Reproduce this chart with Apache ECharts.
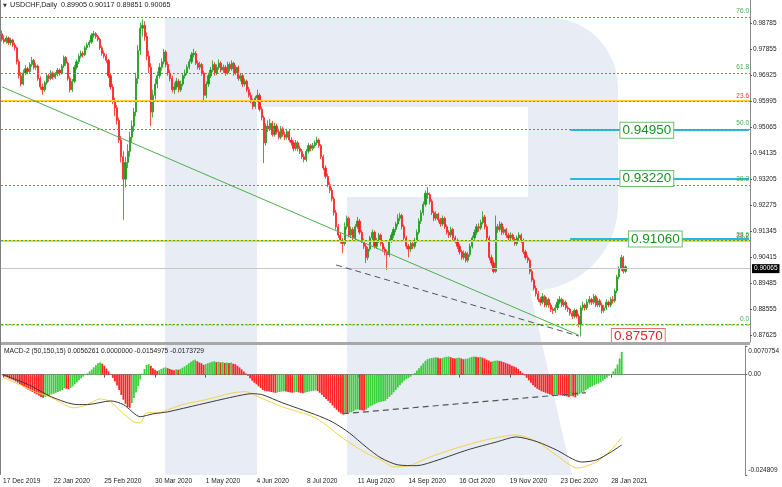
<!DOCTYPE html>
<html><head><meta charset="utf-8">
<script src="https://cdn.jsdelivr.net/npm/echarts@6/dist/echarts.min.js"></script>
<style>html,body{margin:0;padding:0;background:#fff}#c{width:782px;height:487px}</style>
</head><body><div id="c"></div>
<script>
// ---------- DATA (prices in 1e-4 units) ----------
const tickLabels = ['17 Dec 2019','22 Jan 2020','25 Feb 2020','30 Mar 2020','1 May 2020','4 Jun 2020','8 Jul 2020','11 Aug 2020','14 Sep 2020','16 Oct 2020','19 Nov 2020','23 Dec 2020','28 Jan 2021'];
const priceTicks = [0.98785,0.97855,0.96925,0.95995,0.95065,0.94135,0.93205,0.92275,0.91345,0.90415,0.89485,0.88555,0.87625];
const macdTicks = [0.0070754, 0, -0.024809];
const open = [9840,9820,9812,9825,9808,9818,9800,9790,9740,9690,9660,9700,9715,9705,9730,9745,9720,9725,9680,9650,9640,9665,9690,9680,9700,9685,9695,9710,9700,9725,9755,9735,9680,9640,9670,9720,9740,9760,9770,9765,9790,9800,9810,9835,9840,9830,9820,9790,9770,9760,9745,9690,9650,9600,9575,9530,9460,9400,9320,9380,9420,9470,9510,9560,9680,9780,9860,9870,9830,9760,9720,9560,9620,9660,9690,9720,9740,9775,9730,9700,9680,9640,9650,9670,9640,9660,9690,9700,9720,9740,9765,9770,9735,9720,9730,9700,9620,9660,9690,9710,9730,9700,9720,9735,9710,9720,9700,9730,9715,9735,9700,9720,9680,9690,9660,9670,9640,9620,9600,9580,9610,9620,9570,9540,9450,9510,9500,9520,9480,9510,9490,9470,9500,9480,9470,9490,9460,9450,9430,9450,9430,9420,9400,9390,9420,9440,9430,9440,9450,9460,9440,9400,9360,9330,9300,9280,9250,9200,9150,9120,9100,9090,9150,9180,9120,9140,9110,9150,9170,9130,9100,9080,9040,9070,9110,9130,9080,9100,9120,9090,9070,9060,9050,9100,9120,9140,9160,9180,9190,9150,9110,9080,9070,9090,9080,9100,9130,9170,9200,9230,9270,9265,9240,9200,9180,9195,9175,9160,9180,9150,9130,9120,9140,9110,9100,9080,9060,9040,9055,9030,9050,9080,9110,9130,9150,9145,9165,9185,9150,9110,9040,9020,8990,9150,9140,9160,9130,9140,9120,9110,9120,9105,9090,9110,9120,9100,9060,9040,9030,8990,8960,8930,8910,8890,8880,8900,8870,8890,8870,8855,8850,8860,8880,8890,8870,8880,8860,8855,8840,8830,8850,8830,8800,8860,8870,8860,8880,8890,8880,8900,8870,8885,8870,8850,8860,8880,8870,8890,8885,8920,8970,9000,9040,8990.5];
const high = [9852,9835,9833,9830,9826,9822,9808,9795,9748,9702,9712,9728,9722,9738,9757,9750,9735,9730,9688,9662,9672,9698,9697,9710,9706,9703,9718,9716,9732,9762,9760,9740,9688,9678,9728,9748,9768,9780,9778,9797,9808,9818,9842,9850,9846,9836,9826,9798,9780,9768,9750,9698,9660,9612,9585,9540,9475,9420,9400,9445,9490,9530,9575,9700,9800,9880,9892,9885,9845,9780,9735,9640,9680,9705,9735,9752,9786,9782,9740,9712,9690,9665,9682,9678,9672,9700,9712,9730,9750,9775,9786,9778,9745,9740,9736,9708,9670,9700,9722,9745,9738,9730,9748,9742,9730,9728,9740,9738,9745,9740,9728,9726,9700,9696,9680,9676,9650,9630,9608,9618,9640,9628,9580,9548,9520,9530,9535,9528,9522,9518,9500,9510,9508,9490,9500,9496,9470,9458,9460,9456,9440,9428,9410,9428,9450,9446,9450,9458,9472,9466,9446,9408,9370,9340,9310,9290,9258,9210,9160,9130,9110,9165,9190,9186,9150,9148,9160,9185,9178,9138,9108,9088,9078,9118,9140,9136,9110,9128,9126,9098,9078,9068,9108,9130,9148,9168,9195,9200,9196,9158,9118,9088,9098,9096,9110,9140,9180,9210,9240,9280,9292,9272,9248,9208,9205,9200,9182,9190,9186,9158,9138,9150,9146,9118,9108,9088,9068,9065,9062,9060,9090,9118,9140,9160,9162,9175,9205,9192,9158,9118,9050,9030,9190,9160,9170,9166,9150,9146,9128,9130,9126,9112,9118,9130,9126,9108,9068,9048,9036,8998,8968,8940,8920,8898,8912,8906,8898,8896,8878,8862,8872,8892,8902,8896,8890,8886,8868,8860,8848,8858,8856,8838,8868,8882,8876,8890,8902,8896,8910,8906,8895,8892,8878,8870,8890,8886,8898,8902,8928,8978,9008,9049,9046,9011.7];
const low = [9812,9805,9804,9800,9798,9792,9780,9730,9680,9652,9655,9692,9695,9700,9722,9712,9710,9672,9640,9622,9632,9658,9668,9674,9676,9678,9688,9690,9694,9718,9726,9672,9630,9632,9664,9712,9732,9752,9755,9760,9782,9792,9804,9826,9822,9812,9782,9762,9752,9736,9682,9640,9588,9545,9515,9450,9380,9175,9290,9360,9400,9450,9490,9545,9660,9765,9830,9815,9745,9700,9510,9540,9605,9645,9680,9708,9730,9720,9690,9670,9630,9625,9640,9630,9632,9652,9680,9692,9712,9732,9755,9728,9712,9710,9690,9595,9610,9650,9682,9702,9690,9692,9712,9702,9700,9690,9694,9705,9708,9690,9692,9672,9670,9650,9652,9632,9612,9592,9570,9572,9600,9562,9530,9378,9440,9488,9492,9472,9472,9480,9462,9462,9472,9460,9462,9452,9440,9420,9422,9420,9410,9392,9380,9382,9412,9420,9422,9432,9442,9432,9392,9352,9322,9292,9270,9240,9190,9140,9110,9090,9056,9082,9140,9112,9110,9100,9102,9142,9122,9092,9070,9020,9030,9062,9100,9072,9070,9092,9082,9060,9048,8995,9042,9092,9110,9130,9150,9170,9140,9100,9070,9040,9060,9070,9072,9092,9122,9160,9190,9222,9250,9230,9192,9170,9172,9165,9150,9152,9142,9122,9110,9112,9102,9090,9070,9050,9032,9032,9022,9022,9042,9072,9100,9120,9132,9138,9158,9140,9100,9030,9010,8983,8985,9128,9132,9120,9122,9110,9100,9102,9098,9082,9082,9102,9092,9052,9032,9020,8980,8952,8922,8900,8880,8868,8872,8862,8862,8860,8845,8838,8842,8852,8872,8862,8862,8852,8845,8832,8820,8822,8822,8790,8757,8850,8850,8852,8872,8870,8872,8862,8862,8862,8840,8842,8852,8862,8862,8875,8878,8912,8962,8992,8982,8985.1];
const close = [9820,9812,9825,9808,9818,9800,9790,9740,9690,9660,9700,9715,9705,9730,9745,9720,9725,9680,9650,9640,9665,9690,9680,9700,9685,9695,9710,9700,9725,9755,9735,9680,9640,9670,9720,9740,9760,9770,9765,9790,9800,9810,9835,9840,9830,9820,9790,9770,9760,9745,9690,9650,9600,9575,9530,9460,9400,9320,9380,9420,9470,9510,9560,9680,9780,9860,9870,9830,9760,9720,9560,9620,9660,9690,9720,9740,9775,9730,9700,9680,9640,9650,9670,9640,9660,9690,9700,9720,9740,9765,9770,9735,9720,9730,9700,9620,9660,9690,9710,9730,9700,9720,9735,9710,9720,9700,9730,9715,9735,9700,9720,9680,9690,9660,9670,9640,9620,9600,9580,9610,9620,9570,9540,9450,9510,9500,9520,9480,9510,9490,9470,9500,9480,9470,9490,9460,9450,9430,9450,9430,9420,9400,9390,9420,9440,9430,9440,9450,9460,9440,9400,9360,9330,9300,9280,9250,9200,9150,9120,9100,9090,9150,9180,9120,9140,9110,9150,9170,9130,9100,9080,9040,9070,9110,9130,9080,9100,9120,9090,9070,9060,9050,9100,9120,9140,9160,9180,9190,9150,9110,9080,9070,9090,9080,9100,9130,9170,9200,9230,9270,9265,9240,9200,9180,9195,9175,9160,9180,9150,9130,9120,9140,9110,9100,9080,9060,9040,9055,9030,9050,9080,9110,9130,9150,9145,9165,9185,9150,9110,9040,9020,8990,9150,9140,9160,9130,9140,9120,9110,9120,9105,9090,9110,9120,9100,9060,9040,9030,8990,8960,8930,8910,8890,8880,8900,8870,8890,8870,8855,8850,8860,8880,8890,8870,8880,8860,8855,8840,8830,8850,8830,8800,8860,8870,8860,8880,8890,8880,8900,8870,8885,8870,8850,8860,8880,8870,8890,8885,8920,8970,9000,9040,8990.5,9006.5];
// MACD histogram (1e-4 units)
const hist = [-2,-5,-7,-10,-12,-14,-17,-20,-24,-28,-31,-34,-37,-40,-43,-46,-49,-52,-55,-57,-55,-53,-51,-49,-47,-45,-43,-41,-38,-33,-35,-36,-33,-29,-24,-19,-14,-9,-5,-1,3,8,13,18,23,28,30,27,22,15,8,1,-8,-17,-27,-38,-50,-62,-72,-80,-82,-70,-58,-44,-28,-12,2,14,24,26,22,16,12,9,11,14,17,18,16,14,12,11,13,12,14,17,20,24,28,32,35,37,33,30,28,24,26,28,30,32,33,31,32,30,31,29,30,29,30,27,26,22,18,13,8,3,-3,-9,-15,-20,-24,-29,-33,-38,-40,-41,-42,-43,-44,-45,-44,-43,-42,-41,-42,-43,-44,-45,-44,-43,-44,-45,-46,-45,-43,-42,-41,-40,-39,-41,-45,-50,-55,-60,-65,-70,-76,-82,-87,-92,-96,-98,-95,-97,-94,-93,-90,-87,-86,-87,-88,-89,-86,-82,-78,-76,-73,-70,-68,-67,-66,-65,-60,-55,-50,-44,-38,-32,-26,-20,-15,-11,-8,-5,-1,4,10,16,22,28,34,38,40,41,42,43,42,40,41,43,44,45,43,41,40,41,42,40,38,39,40,42,44,45,44,43,44,42,40,37,35,32,33,34,35,34,33,31,29,27,25,22,20,18,14,9,4,-2,-8,-14,-20,-26,-31,-35,-38,-41,-43,-45,-47,-49,-51,-50,-49,-50,-51,-52,-53,-54,-55,-53,-54,-56,-52,-48,-45,-42,-38,-35,-31,-29,-26,-24,-22,-19,-15,-11,-7,-3,2,8,15,25,40,56.261];
const macdMain = [[0,0],[6,-12],[13,-27],[23,-55],[35,-74],[40,-74],[51,-65],[57,-74],[65,-104],[71,-97],[78,-92],[93,-74],[109,-55],[118,-47],[123,-50],[132,-69],[148,-99],[156,-117],[164,-144],[172,-179],[179,-206],[187,-223],[196,-225],[206,-211],[220,-186],[234,-166],[243,-154],[253,-166],[262,-186],[274,-216],[281,-211],[288,-191],[293,-173.729]];
const macdSignal = [[0,-7],[8,-25],[15,-42],[23,-57],[31,-79],[34,-82],[40,-74],[46,-60],[51,-67],[55,-87],[62,-117],[65,-119],[68,-94],[74,-94],[78,-87],[85,-74],[96,-62],[109,-45],[115,-42],[121,-55],[132,-79],[148,-107],[162,-161],[172,-194],[179,-211],[185,-228],[192,-226],[201,-206],[215,-181],[229,-161],[243,-149],[253,-166],[262,-199],[272,-231],[281,-216],[288,-186],[293,-154.975]];
// Fibonacci / target levels
const fibLevels = [0.8757,0.9106,0.9322,0.9495,0.9669,0.9881];
const fibNames = ['0.0','23.6','38.2','50.0','61.8','76.0'];
const redFibLevels = [0.95709,0.90917];
const redFibNames = ['23.6','38.2'];
const targets = [0.9495,0.9322,0.9106];
const lowTarget = 0.8757;
const trendLine = [[0,0.9650],[271,0.8762]];
const dashLine = [[157.4,0.9013],[270.6,0.8759]];
const macdDash = [[161.2,-0.00968],[276.3,-0.00447]];

// ---------- BUILD ----------
const P = 1e-4, NSLOT = 352;
const MON = ['Jan','Feb','Mar','Apr','May','Jun','Jul','Aug','Sep','Oct','Nov','Dec'];
const cats = [];
(function(){ const d = new Date(Date.UTC(2019,11,17));
  while (cats.length < close.length) { const w=d.getUTCDay(), m=d.getUTCMonth(), dd=d.getUTCDate();
    if (w!==0 && w!==6 && !(m===11&&dd===25) && !(m===0&&dd===1)) cats.push(dd+' '+MON[m]+' '+d.getUTCFullYear());
    d.setUTCDate(dd+1); }
  for (let i=cats.length;i<NSLOT;i++) cats.push('f'+i);
})();
const candles = open.map((o,i)=>[o*P, close[i]*P, low[i]*P, high[i]*P]);
const histData = hist.map((v,i)=>({value:v*P, itemStyle:{color:(i>0 && v>hist[i-1])?'#3ccf3c':'#ff2424'}}));
const F = "'Liberation Sans', Arial, sans-serif";
const GREEN='#3fae49', last=close.length-1;
const fmt5 = v=>(v*P).toFixed(5);

const ml = [];
targets.forEach(t=>ml.push([{coord:[266.9,t], lineStyle:{color:'#2cb7e2',width:2,type:'solid'}, label:{show:false}},{coord:[NSLOT-1,t]}]));
redFibLevels.forEach((v,k)=>{
  ml.push({yAxis:v, lineStyle:{color:'#ffd21f',width:2,type:'solid'}, label:{show:false}});
  ml.push({yAxis:v, lineStyle:{color:'#ff5a6e',width:1,type:[2,2]}, label:{show:true,position:'insideEndTop',formatter:redFibNames[k],color:'#ff3030',fontSize:6.5,fontFamily:F,distance:[1,1]}});
});
ml.push({yAxis:fibLevels[0], lineStyle:{color:'#f2c200',width:1.5,type:[3,2]}, label:{show:false}});
fibLevels.forEach((v,k)=>ml.push({yAxis:v, lineStyle:{color:GREEN,width:1,type:[2,2]}, label:{show:true,position:'insideEndTop',formatter:fibNames[k],color:GREEN,fontSize:6.5,fontFamily:F,distance:[1,2]}}));
ml.push({yAxis:close[last]*P, lineStyle:{color:'#c6c6c6',width:1,type:'solid'}, label:{show:true,position:'end',formatter:fmt5(close[last]),backgroundColor:'#000',color:'#fff',fontSize:6.5,fontFamily:F,padding:[1,2,1,2],distance:2}});
ml.push([{coord:trendLine[0], lineStyle:{color:'#4caf50',width:1,type:'solid'}, label:{show:false}},{coord:trendLine[1]}]);
ml.push([{coord:dashLine[0], lineStyle:{color:'#555',width:1,type:[6,4]}, label:{show:false}},{coord:dashLine[1]}]);

const boxLabel = (txt,col,bcol)=>({show:true,formatter:txt,position:'inside',backgroundColor:'#fff',borderColor:bcol,borderWidth:1,color:col,fontSize:13.5,fontFamily:F,padding:[1,2,0,2]});
const mp = [
  {coord:[303,targets[0]], label:boxLabel('0.94950','#14951a','#6cbf6c')},
  {coord:[303,targets[1]], label:boxLabel('0.93220','#14951a','#6cbf6c')},
  {coord:[306.8,targets[2]], label:boxLabel('0.91060','#14951a','#6cbf6c')},
  {coord:[298.6,lowTarget], label:boxLabel('0.87570','#e82020','#e87070')}
];

// watermark "R" outline (decorative background, pixel geometry)
const rPts = [[165,18],[550,18]];
for (let k=1;k<=12;k++){ const a=-Math.PI/2 + k*Math.PI/24; rPts.push([550+68*Math.cos(a), 88+70*Math.sin(a)]); }
rPts.push([618,205]);
for (let k=1;k<=12;k++){ const a=k*Math.PI/24; rPts.push([530+88*Math.cos(a), 205+86*Math.sin(a)]); }
rPts.push([572,475],[347,475],[347,197],[528,197],[528,107],[257,107],[257,475],[165,475]);

const chart = echarts.init(document.getElementById('c'), null, {renderer:'canvas'});
chart.setOption({
  animation:false, backgroundColor:'#fff',
  textStyle:{fontFamily:F},
  grid:[{left:1,right:32,top:0,height:342},{left:1,right:32,top:346,height:129}],
  xAxis:[
    {type:'category',gridIndex:0,data:cats,show:false,boundaryGap:true},
    {type:'category',gridIndex:1,data:cats,boundaryGap:true,
     axisLine:{show:true,lineStyle:{color:'#808080'}},
     axisTick:{show:true,length:3,alignWithLabel:true,interval:(i)=>i%24===0&&i/24<tickLabels.length,lineStyle:{color:'#606060'}},
     axisLabel:{show:true,interval:(i)=>i%24===0&&i/24<tickLabels.length,formatter:(v,i)=>tickLabels[i/24]||'',align:'left',margin:3,fontSize:6.6,color:'#222',fontFamily:F},
     splitLine:{show:false}}
  ],
  yAxis:[
    {type:'value',gridIndex:0,position:'right',min:0.87376,max:0.99608,scale:true,
     axisLine:{show:true,lineStyle:{color:'#8a8a8a'}},
     axisTick:{show:true,length:2,customValues:priceTicks,lineStyle:{color:'#606060'}},
     axisLabel:{customValues:priceTicks,formatter:v=>v.toFixed(5),fontSize:6.5,color:'#222',margin:3,fontFamily:F},
     splitLine:{show:false}},
    {type:'value',gridIndex:1,position:'right',min:macdTicks[2],max:macdTicks[0],
     axisLine:{show:true,lineStyle:{color:'#8a8a8a'}},
     axisTick:{show:true,length:2,customValues:macdTicks,lineStyle:{color:'#606060'}},
     axisLabel:{customValues:macdTicks,fontSize:6.5,color:'#222',margin:3,fontFamily:F,
       formatter:v=>v>0.001?'{t|'+macdTicks[0].toFixed(7)+'}':(v<-0.001?'{b|'+macdTicks[2].toFixed(6)+'}':'0.00'),
       rich:{t:{padding:[10,0,0,0],fontSize:6.5,color:'#222',fontFamily:F},b:{padding:[0,0,10,0],fontSize:6.5,color:'#222',fontFamily:F}}},
     splitLine:{show:false}}
  ],
  series:[
    {type:'candlestick',xAxisIndex:0,yAxisIndex:0,data:candles,barWidth:1.7,z:3,
     itemStyle:{color:'#1a9a1a',color0:'#ff2020',borderColor:'#1a9a1a',borderColor0:'#ff2020',borderWidth:0.8},
     markLine:{silent:true,symbol:'none',animation:false,data:ml},
     markPoint:{silent:true,symbol:'rect',symbolSize:1,itemStyle:{color:'rgba(0,0,0,0)'},data:mp}},
    {type:'bar',xAxisIndex:1,yAxisIndex:1,data:histData,barWidth:1.8,z:2},
    {type:'line',xAxisIndex:1,yAxisIndex:1,data:macdSignal.map(([i,v])=>[i,v*P]),symbol:'none',smooth:0.25,lineStyle:{color:'#f5d34a',width:1},z:4},
    {type:'line',xAxisIndex:1,yAxisIndex:1,data:macdMain.map(([i,v])=>[i,v*P]),symbol:'none',smooth:0.25,lineStyle:{color:'#3a3a3a',width:1},z:5,
     markLine:{silent:true,symbol:'none',animation:false,data:[[{coord:macdDash[0],lineStyle:{color:'#555',width:1.2,type:[6,4]},label:{show:false}},{coord:macdDash[1]}]]}}
  ],
  graphic:[
    {type:'polygon',z:0,silent:true,shape:{points:rPts},style:{fill:'#e8ecf4'}},
    {type:'rect',z:20,silent:true,shape:{x:0,y:342,width:750,height:3},style:{fill:'#a8a8a8'}},
    {type:'line',z:20,silent:true,shape:{x1:0.5,y1:0,x2:0.5,y2:475},style:{stroke:'#808080',lineWidth:1}},
    {type:'text',z:30,silent:true,x:3,y:3,style:{text:'▼',fontSize:5,fontFamily:'DejaVu Sans',fill:'#333'}},
    {type:'text',z:30,silent:true,x:10,y:2,style:{text:'USDCHF,Daily  '+[open[last],high[last],low[last],close[last]].map(fmt5).join(' '),fontSize:7.2,fontFamily:F,fill:'#222'}},
    {type:'text',z:30,silent:true,x:4,y:348,style:{text:'MACD-2 (50,150,15) '+(hist[last]*P).toFixed(7)+' 0.0000000 '+(macdSignal[macdSignal.length-1][1]*P).toFixed(7)+' '+(macdMain[macdMain.length-1][1]*P).toFixed(7),fontSize:6.7,fontFamily:F,fill:'#222'}}
  ]
});
</script></body></html>
